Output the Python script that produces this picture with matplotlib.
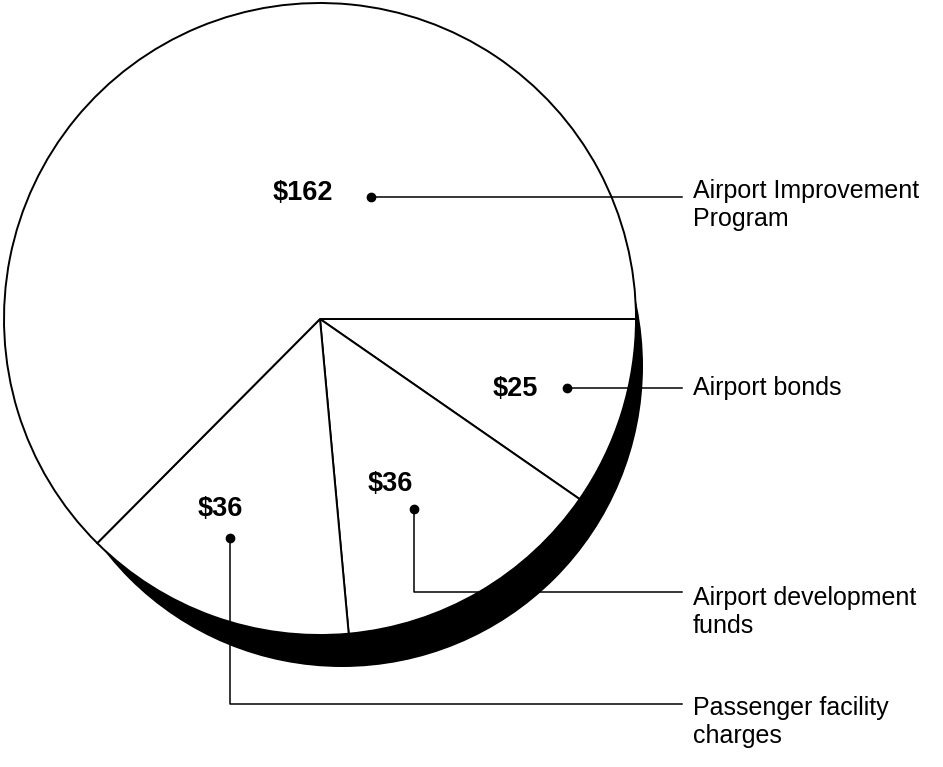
import matplotlib.pyplot as plt
from matplotlib.patches import Circle

# funding sources, $ millions (clockwise from 3 o'clock)
sources = ["Airport bonds", "Airport development\nfunds",
           "Passenger facility\ncharges", "Airport Improvement\nProgram"]
amounts = [25, 36, 36, 162]
value_labels = ["$25", "$36", "$36", "$162"]

plt.rcParams['font.family'] = ['Liberation Sans', 'DejaVu Sans']

W, H = 943, 767
fig = plt.figure(figsize=(W / 100, H / 100), dpi=100)
ax = fig.add_axes([0, 0, 1, 1])

cx, cy, r = 320, 319, 316
# black "depth" shadow: a slightly smaller disc behind, shifted down-right,
# so only a crescent shows under the lower-right edge
ax.add_patch(Circle((342, 366), 301, facecolor='black', edgecolor='none',
                    zorder=0))
ax.pie(amounts, center=(cx, cy), radius=r, colors=['white'] * 4,
       startangle=0, counterclock=True,
       wedgeprops=dict(edgecolor='black', linewidth=1.4, zorder=1))

ax.set_xlim(0, W)
ax.set_ylim(H, 0)
ax.set_aspect('equal')
ax.axis('off')

# value text position, leader path (dot first), label position
layout = [
    ((515, 389), [(567, 388), (682, 388)], (693, 388)),
    ((390, 484), [(414, 509), (414, 592), (682, 592)], (693, 612)),
    ((220, 509), [(230, 538), (230, 704), (682, 704)], (693, 722)),
    ((303, 193), [(371, 197), (682, 197)], (693, 205)),
]

for val, src, (vpos, path, lpos) in zip(value_labels, sources, layout):
    ax.text(vpos[0], vpos[1], val, fontsize=19.5, fontweight='bold',
            ha='center', va='center', zorder=3)
    xs = [p[0] for p in path]
    ys = [p[1] for p in path]
    ax.plot(xs, ys, color='black', linewidth=1.1, zorder=3)
    ax.plot(xs[0], ys[0], 'o', color='black', markersize=6, zorder=3)
    ax.text(lpos[0], lpos[1], src, fontsize=18, ha='left', va='center',
            linespacing=1.25, zorder=3)

fig.savefig('out.png', dpi=100, facecolor='white')
